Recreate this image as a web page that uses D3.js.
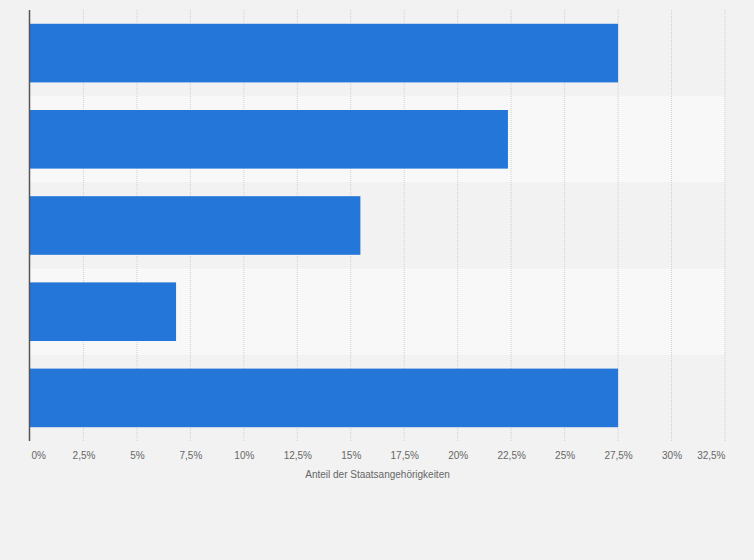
<!DOCTYPE html>
<html>
<head>
<meta charset="utf-8">
<script src="https://cdn.jsdelivr.net/npm/d3@7.9.0/dist/d3.min.js"></script>
<style>
  html, body { margin: 0; padding: 0; background: #f2f2f2; }
  svg { display: block; }
</style>
</head>
<body>
<svg id="chart" width="754" height="560"></svg>
<script>
// data (category labels are not shown in the chart)
const categories = ['Kategorie 1', 'Kategorie 2', 'Kategorie 3', 'Kategorie 4', 'Kategorie 5'];
const shares = [27.5, 22.35, 15.45, 6.83, 27.5];
const tickValues = [0, 2.5, 5, 7.5, 10, 12.5, 15, 17.5, 20, 22.5, 25, 27.5, 30, 32.5];
const axisTitle = 'Anteil der Staatsangehörigkeiten';

const svg = d3.select('#chart');
const margin = { top: 10, left: 30, right: 29, bottom: 119 };
const width = 754 - margin.left - margin.right;
const height = 560 - margin.top - margin.bottom;

const de = d3.formatLocale({ decimal: ',', thousands: '.', grouping: [3], currency: ['', ' €'] });
const fmt = v => de.format(',')(v) + '%';

const x = d3.scaleLinear().domain([0, 32.5]).range([0, width]);
const y = d3.scaleBand().domain(categories).range([0, height]).paddingInner(0.32).paddingOuter(0.16);

const g = svg.append('g').attr('transform', `translate(${margin.left},${margin.top})`);

// alternating row bands
g.append('g').selectAll('rect')
  .data(categories)
  .enter()
  .append('rect')
  .attr('x', 0)
  .attr('y', d => y(d) - y.step() * 0.16)
  .attr('width', width)
  .attr('height', y.step())
  .attr('fill', (d, i) => i % 2 ? '#f8f8f8' : '#f2f2f2');

// dotted grid
g.append('g').selectAll('line')
  .data(tickValues.slice(1))
  .enter()
  .append('line')
  .attr('x1', d => x(d)).attr('x2', d => x(d))
  .attr('y1', 0).attr('y2', height)
  .attr('stroke', '#d0d0d0')
  .attr('stroke-width', 1)
  .attr('stroke-dasharray', '1,1');

// bars
g.append('g').selectAll('rect')
  .data(shares)
  .enter()
  .append('rect')
  .attr('x', 0)
  .attr('y', (d, i) => y(categories[i]))
  .attr('width', d => x(d))
  .attr('height', y.bandwidth())
  .attr('fill', '#2476d9');

// left axis line
g.append('line')
  .attr('x1', -0.5).attr('x2', -0.5)
  .attr('y1', 0).attr('y2', height)
  .attr('stroke', '#555')
  .attr('stroke-width', 1.5);

// x axis labels
const xAxis = d3.axisBottom(x).tickValues(tickValues).tickFormat(fmt).tickSize(0).tickPadding(11);
const ax = g.append('g').attr('transform', `translate(0,${height})`).call(xAxis);
ax.select('.domain').remove();
ax.selectAll('text')
  .attr('fill', '#666')
  .style('font-family', 'Liberation Sans, Arial, sans-serif')
  .style('font-size', '10px');
// first label sits right of the axis, last one ends at the edge
ax.selectAll('.tick text')
  .filter(d => d === tickValues[0])
  .attr('text-anchor', 'start')
  .attr('dx', 1);
ax.selectAll('.tick text')
  .filter(d => d === tickValues[tickValues.length - 1])
  .attr('text-anchor', 'end');

g.append('text')
  .attr('x', width / 2)
  .attr('y', height + 37)
  .attr('text-anchor', 'middle')
  .attr('fill', '#666')
  .style('font-family', 'Liberation Sans, Arial, sans-serif')
  .style('font-size', '10px')
  .text(axisTitle);
</script>
</body>
</html>
